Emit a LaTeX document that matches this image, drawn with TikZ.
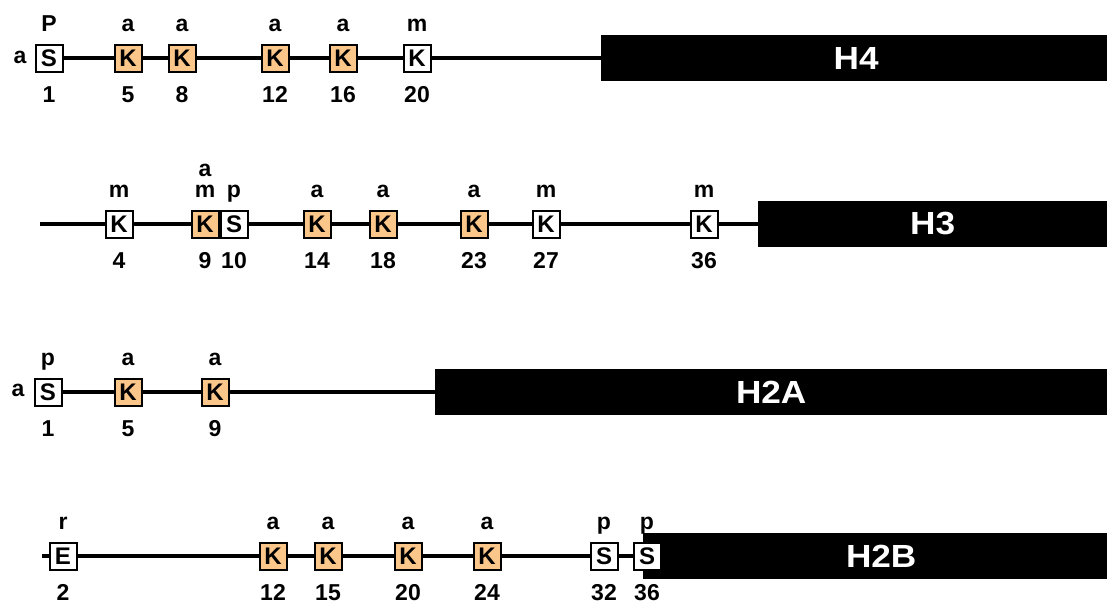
\documentclass[tikz,border=0pt]{standalone}
\usepackage{fontspec}
\setmainfont{Liberation Sans}
\usetikzlibrary{backgrounds}
\definecolor{korange}{RGB}{250,198,138}
\newcommand{\resi}[7]{%
  \node[#4] (#1) at (#2,#3) {#5};
  \node[mod,anchor=base] (#1t) at (#2,#3-27) {#6};
  \node[mod,anchor=base] (#1n) at (#2,#3+44) {#7};}
\newcommand{\barlabel}[1]{\scalebox{1.1}[1]{#1}}
\begin{document}
\begin{tikzpicture}[x=1pt,y=-1pt,
  res/.style={draw,line width=2pt,minimum size=27pt,inner sep=0pt,
    font=\fontsize{24}{24}\selectfont\bfseries,fill=white},
  acet/.style={res,fill=korange},
  mod/.style={font=\fontsize{23}{23}\selectfont\bfseries,inner sep=0pt},
  bar/.style={fill=black,inner sep=0pt,minimum height=46pt,anchor=west,
    text=white,font=\fontsize{32}{32}\selectfont\bfseries},
  chain/.style={line width=4pt}]
\useasboundingbox (0,0) rectangle (1107,600);

% ---------- H4 ----------
\node[bar,minimum width=506pt] (h4bar) at (601,58) {\hspace*{4pt}\barlabel{H4}};
\resi{h4s1}{49}{58}{res}{S}{P}{1}
\resi{h4k5}{128}{58}{acet}{K}{a}{5}
\resi{h4k8}{182}{58}{acet}{K}{a}{8}
\resi{h4k12}{275}{58}{acet}{K}{a}{12}
\resi{h4k16}{343}{58}{acet}{K}{a}{16}
\resi{h4k20}{417}{58}{res}{K}{m}{20}
\node[mod,anchor=base] (h4nterm) at (20,63) {a};

% ---------- H3 ----------
\node[bar,minimum width=349pt] (h3bar) at (758,224) {\barlabel{H3}};
\coordinate (h3start) at (40,224);
\resi{h3k4}{119}{224}{res}{K}{m}{4}
\resi{h3k9}{205}{224}{acet}{K}{m}{9}
\resi{h3s10}{234}{224}{res}{S}{p}{10}
\node[mod,anchor=base] (h3k9t2) at (205,176) {a};
\resi{h3k14}{317}{224}{acet}{K}{a}{14}
\resi{h3k18}{383}{224}{acet}{K}{a}{18}
\resi{h3k23}{474}{224}{acet}{K}{a}{23}
\resi{h3k27}{546}{224}{res}{K}{m}{27}
\resi{h3k36}{704}{224}{res}{K}{m}{36}

% ---------- H2A ----------
\node[bar,minimum width=672pt] (h2abar) at (435,392) {\barlabel{H2A}};
\resi{h2as1}{48}{392}{res}{S}{p}{1}
\resi{h2ak5}{128}{392}{acet}{K}{a}{5}
\resi{h2ak9}{215}{392}{acet}{K}{a}{9}
\node[mod,anchor=base] (h2anterm) at (18,396) {a};

% ---------- H2B ----------
\node[bar,minimum width=464pt] (h2bbar) at (643,556) {\hspace*{12pt}\barlabel{H2B}};
\coordinate (h2bstart) at (42,556);
\resi{h2be2}{63}{556}{res}{E}{r}{2}
\resi{h2bk12}{273}{556}{acet}{K}{a}{12}
\resi{h2bk15}{328}{556}{acet}{K}{a}{15}
\resi{h2bk20}{408}{556}{acet}{K}{a}{20}
\resi{h2bk24}{487}{556}{acet}{K}{a}{24}
\resi{h2bs32}{604}{556}{res}{S}{p}{32}
\resi{h2bs36}{647}{556}{res}{S}{p}{36}

\begin{scope}[on background layer]
  \draw[chain] (h4s1.center) -- (h4bar.west);
  \draw[chain] (h3start) -- (h3bar.west);
  \draw[chain] (h2as1.center) -- (h2abar.west);
  \draw[chain] (h2bstart) -- (h2bbar.west);
\end{scope}
\end{tikzpicture}
\end{document}
